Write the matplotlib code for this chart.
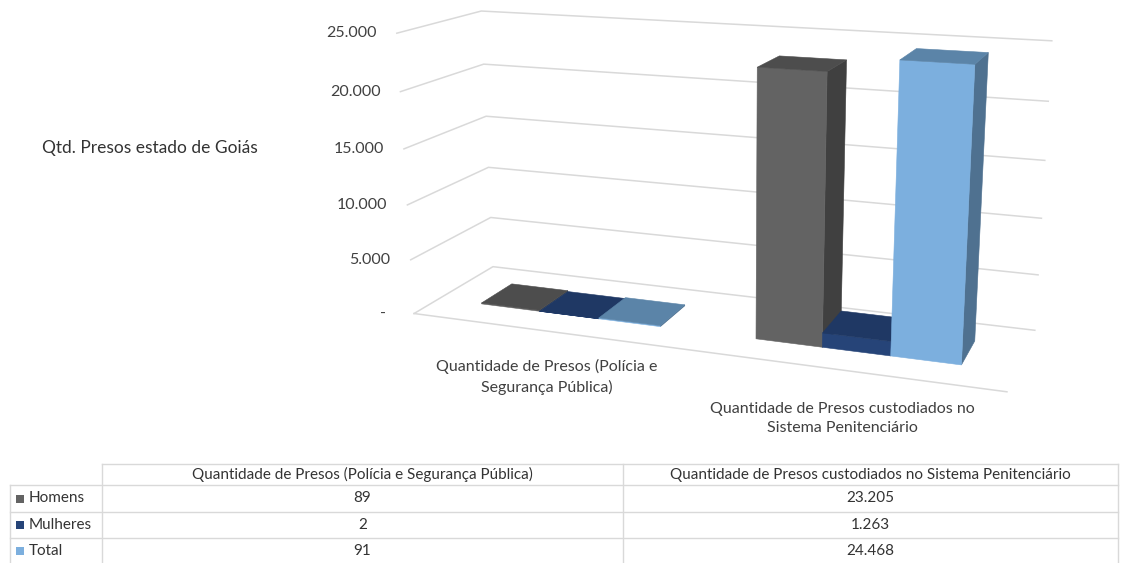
import numpy as np
import matplotlib.pyplot as plt
from matplotlib.patches import Polygon, Rectangle

plt.rcParams['font.family'] = ['Lato', 'DejaVu Sans']

title = 'Qtd. Presos estado de Goiás'
categories = ['Quantidade de Presos (Polícia e\nSegurança Pública)',
              'Quantidade de Presos custodiados no\nSistema Penitenciário']
table_headers = ['Quantidade de Presos (Polícia e Segurança Pública)',
                 'Quantidade de Presos custodiados no Sistema Penitenciário']
series = ['Homens', 'Mulheres', 'Total']
homens = [89, 23205]
mulheres = [2, 1263]
total = [91, 24468]
y_ticks = [0, 5000, 10000, 15000, 20000, 25000]
y_labels = ['-', '5.000', '10.000', '15.000', '20.000', '25.000']
y_max = 25000

values = [homens, mulheres, total]
front_colors = ['#636363', '#264478', '#7cafde']
side_colors = ['#404040', '#1b3158', '#4f7190']
top_colors = ['#4d4d4d', '#1f3864', '#5b84a8']

fig = plt.figure(figsize=(11.23, 5.63), dpi=100)
ax = fig.add_axes([0, 0, 1, 1])
ax.set_xlim(0, 1123)
ax.set_ylim(563, 0)
ax.axis('off')

# perspective of the 3d box: world (category x, depth z, value/ymax h) -> pixels
# frame corners measured from the layout, solved as a projective camera
frame_world = [(0, 0, 0), (0, 1, 0), (2, 1, 0), (2, 0, 0),
               (0, 0, 1), (0, 1, 1), (2, 1, 1),
               (0, 0, .8), (0, 1, .8), (2, 1, .8),
               (0, 0, .2), (2, 1, .2)]
frame_px = [(414, 313), (493, 267), (1035, 330), (1007, 392),
            (397, 33), (482, 11), (1052, 41),
            (400, 92), (483, 64), (1048, 101),
            (411, 260), (1038, 275)]
A = []
b = []
for (x, z, h), (u, v) in zip(frame_world, frame_px):
    A.append([x, z, h, 1, 0, 0, 0, 0, -u * x, -u * z, -u * h])
    b.append(u)
    A.append([0, 0, 0, 0, x, z, h, 1, -v * x, -v * z, -v * h])
    b.append(v)
p = np.linalg.lstsq(np.array(A, float), np.array(b, float), rcond=None)[0]
P = np.append(p, 1).reshape(3, 4)


def proj(x, z, h):
    q = P @ np.array([x, z, h, 1.0])
    return q[0] / q[2], q[1] / q[2]


# gridlines on side and back wall + value labels
for t, lab in zip(y_ticks, y_labels):
    h = t / y_max
    pts = [proj(0, 0, h), proj(0, 1, h), proj(2, 1, h)]
    ax.plot([q[0] for q in pts], [q[1] for q in pts], color='#d9d9d9', lw=1.1, zorder=1)
    fx, fy = pts[0]
    off = 28 if t == 0 else 20
    ax.text(fx - off, fy, lab, ha='right', va='center', fontsize=11.5, color='#404040')

f0 = proj(0, 0, 0)
f1 = proj(2, 0, 0)
ax.plot([f0[0], f1[0]], [f0[1], f1[1]], color='#d9d9d9', lw=1.1, zorder=1)

# bars
bw = 1 / (len(series) + 1.5)
z0, z1 = 0.3, 0.7
for i in range(len(categories)):
    for j in range(len(series)):
        x0 = i + 0.75 * bw + j * bw
        x1 = x0 + bw
        h = values[j][i] / y_max
        right = [proj(x1, z0, 0), proj(x1, z1, 0), proj(x1, z1, h), proj(x1, z0, h)]
        front = [proj(x0, z0, 0), proj(x1, z0, 0), proj(x1, z0, h), proj(x0, z0, h)]
        top = [proj(x0, z0, h), proj(x1, z0, h), proj(x1, z1, h), proj(x0, z1, h)]
        for face, col in [(right, side_colors[j]), (front, front_colors[j]), (top, top_colors[j])]:
            ax.add_patch(Polygon(face, closed=True, facecolor=col, edgecolor=col,
                                 lw=0.4, zorder=3))

# category labels under the floor
for i, cat in enumerate(categories):
    cx, cy = proj(i + 0.5, 0, 0)
    ax.text(cx, cy + 28 + 4 * i, cat, ha='center', va='top', fontsize=11.5,
            color='#404040', linespacing=1.45)

ax.text(42, 148, title, ha='left', va='center', fontsize=12.5, color='#333333')

# data table
col_x = [10, 102, 623, 1118]
row_y = [464, 485, 512, 538, 564]
grid = '#d9d9d9'
ax.plot([col_x[1], col_x[3]], [row_y[0], row_y[0]], color=grid, lw=1)
for yy in row_y[1:]:
    ax.plot([col_x[0], col_x[3]], [yy, yy], color=grid, lw=1)
ax.plot([col_x[0], col_x[0]], [row_y[1], row_y[-1]], color=grid, lw=1)
for xx in col_x[1:]:
    ax.plot([xx, xx], [row_y[0], row_y[-1]], color=grid, lw=1)

for k, hd in enumerate(table_headers):
    ax.text((col_x[k + 1] + col_x[k + 2]) / 2, (row_y[0] + row_y[1]) / 2, hd,
            ha='center', va='center', fontsize=11, color='#333333')

for j, name in enumerate(series):
    yc = (row_y[j + 1] + row_y[j + 2]) / 2
    ax.add_patch(Rectangle((16, yc - 4), 8, 8, facecolor=front_colors[j], edgecolor='none'))
    ax.text(29, yc, name, ha='left', va='center', fontsize=11, color='#333333')
    for k in range(len(categories)):
        txt = f'{values[j][k]:,}'.replace(',', '.')
        ax.text((col_x[k + 1] + col_x[k + 2]) / 2, yc, txt, ha='center', va='center',
                fontsize=11, color='#333333')

fig.savefig('out.png', dpi=100)
